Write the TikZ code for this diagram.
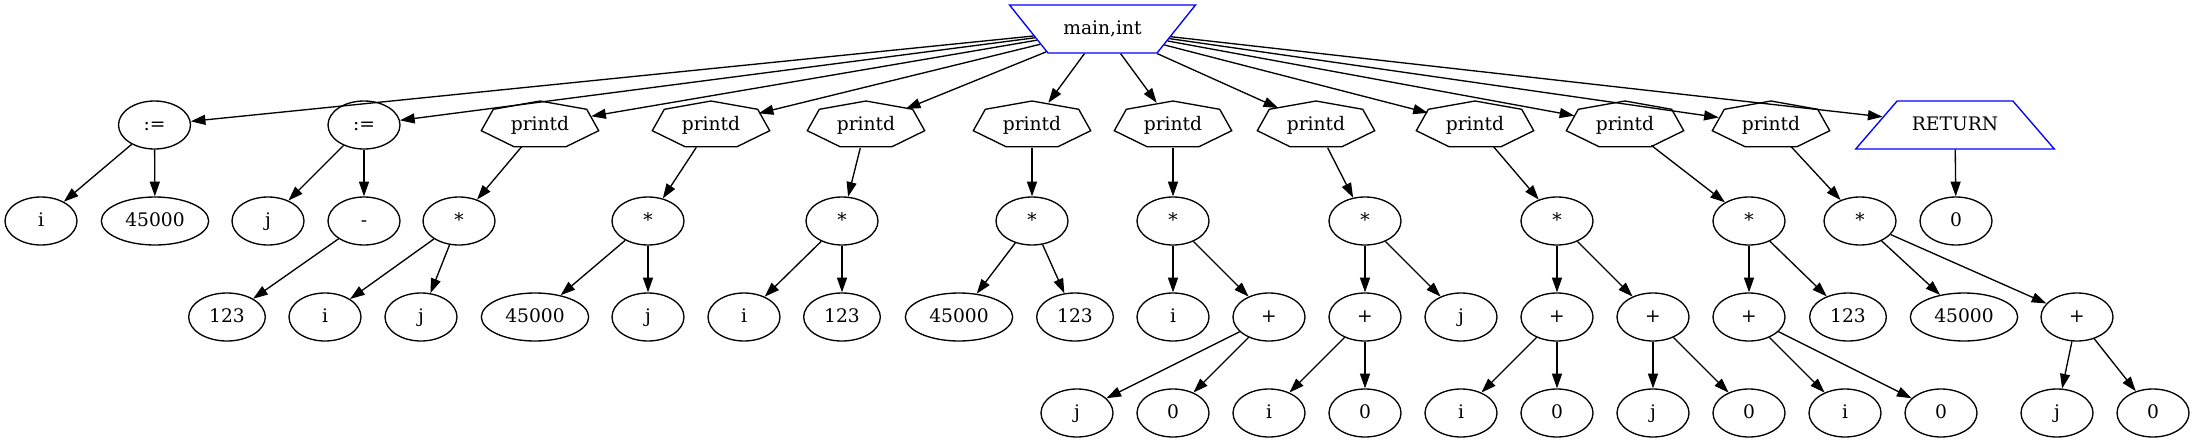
\documentclass[tikz,border=0pt]{standalone}
\usepackage{fontspec}
\setmainfont{DejaVu Serif}
\usetikzlibrary{shapes.geometric,arrows.meta}
\begin{document}
\begin{tikzpicture}[x=0.75pt,y=-0.75pt,
  every node/.style={font=\fontsize{14}{16.8}\selectfont, text height=12pt, text depth=3.4pt, inner sep=0pt},
  el/.style={draw, line width=1pt, ellipse, minimum width=54pt, minimum height=36pt},
  elm/.style={el, minimum width=57.5pt},
  elw/.style={el, minimum width=80.5pt},
  hept/.style={ellipse, minimum width=82.5pt, minimum height=34.5pt},
  heptline/.style={draw, line width=1pt, line join=miter},
  trap/.style={trapezium, draw=blue, line width=1pt, align=center, inner ysep=10.3pt},
  edge/.style={-{Triangle[length=11pt,width=7.5pt]}, line width=1pt}
]
\useasboundingbox (0,0) rectangle (2195,443);

% row 0
\node[trap, trapezium left angle=51.3, trapezium right angle=51.3, shape border rotate=180,
      text width=60pt, inner xsep=10.9pt] (main) at (1102.5,29) {main,int};

% row 1
\node[el] (a1) at (154.5,125) {:=};
\node[el] (a2) at (364,125) {:=};
\node[hept] (p1) at (540,125) {printd};
\node[hept] (p2) at (711,125) {printd};
\node[hept] (p3) at (866,125) {printd};
\node[hept] (p4) at (1032,125) {printd};
\node[hept] (p5) at (1173,125) {printd};
\node[hept] (p6) at (1316,125) {printd};
\node[hept] (p7) at (1475,125) {printd};
\node[hept] (p8) at (1625,125) {printd};
\node[hept] (p9) at (1771,125) {printd};
\node[trap, trapezium left angle=49.2, trapezium right angle=49.2,
      text width=66pt, inner xsep=10.4pt] (ret) at (1955,125) {RETURN};

% row 2
\node[el]  (a1i) at (41,221) {i};
\node[elw] (a1v) at (155,221) {45000};
\node[el]  (a2j) at (268,221) {j};
\node[el]  (a2m) at (364,221) {-};
\node[el]  (m1) at (459,221) {*};
\node[el]  (m2) at (648,221) {*};
\node[el]  (m3) at (842,221) {*};
\node[el]  (m4) at (1032,221) {*};
\node[el]  (m5) at (1173,221) {*};
\node[el]  (m6) at (1365,221) {*};
\node[el]  (m7) at (1557,221) {*};
\node[el]  (m8) at (1749,221) {*};
\node[el]  (m9) at (1860,221) {*};
\node[el]  (r0) at (1956,221) {0};

% row 3
\node[elm] (a2c) at (227,317) {123};
\node[el]  (m1i) at (325,317) {i};
\node[el]  (m1j) at (421,317) {j};
\node[elw] (m2a) at (535,317) {45000};
\node[el]  (m2j) at (648,317) {j};
\node[el]  (m3i) at (744,317) {i};
\node[elm] (m3c) at (842,317) {123};
\node[elw] (m4a) at (959,317) {45000};
\node[elm] (m4c) at (1075,317) {123};
\node[el]  (m5i) at (1173,317) {i};
\node[el]  (m5p) at (1269,317) {+};
\node[el]  (m6p) at (1365,317) {+};
\node[el]  (m6j) at (1461,317) {j};
\node[el]  (m7p) at (1557,317) {+};
\node[el]  (m7q) at (1653,317) {+};
\node[el]  (m8p) at (1749,317) {+};
\node[elm] (m8c) at (1848,317) {123};
\node[elw] (m9a) at (1964,317) {45000};
\node[el]  (m9p) at (2077,317) {+};

% row 4
\node[el] (m5pj) at (1077,413) {j};
\node[el] (m5p0) at (1173,413) {0};
\node[el] (m6pi) at (1269,413) {i};
\node[el] (m6p0) at (1365,413) {0};
\node[el] (m7pi) at (1461,413) {i};
\node[el] (m7p0) at (1557,413) {0};
\node[el] (m7qj) at (1653,413) {j};
\node[el] (m7q0) at (1749,413) {0};
\node[el] (m8pi) at (1845,413) {i};
\node[el] (m8p0) at (1941,413) {0};
\node[el] (m9pj) at (2057,413) {j};
\node[el] (m9p0) at (2153,413) {0};

% heptagon outlines of the printd nodes
\foreach \n in {p1,p2,p3,p4,p5,p6,p7,p8,p9}
  \draw[heptline] (\n.center) ++(0,-24) -- ++(46.7,8.3) -- ++(12,21.4) -- ++(-32.7,16)
    -- ++(-52,0) -- ++(-32.7,-16) -- ++(12,-21.4) -- cycle;

% connectors
\foreach \t in {a1,a2,p1,p2,p3,p4,p5,p6,p7,p8,p9,ret}
  \draw[edge] (main) -- (\t);
\draw[edge] (a1) -- (a1i);
\draw[edge] (a1) -- (a1v);
\draw[edge] (a2) -- (a2j);
\draw[edge] (a2) -- (a2m);
\draw[edge] (a2m) -- (a2c);
\draw[edge] (p1) -- (m1);
\draw[edge] (m1) -- (m1i);
\draw[edge] (m1) -- (m1j);
\draw[edge] (p2) -- (m2);
\draw[edge] (m2) -- (m2a);
\draw[edge] (m2) -- (m2j);
\draw[edge] (p3) -- (m3);
\draw[edge] (m3) -- (m3i);
\draw[edge] (m3) -- (m3c);
\draw[edge] (p4) -- (m4);
\draw[edge] (m4) -- (m4a);
\draw[edge] (m4) -- (m4c);
\draw[edge] (p5) -- (m5);
\draw[edge] (m5) -- (m5i);
\draw[edge] (m5) -- (m5p);
\draw[edge] (m5p) -- (m5pj);
\draw[edge] (m5p) -- (m5p0);
\draw[edge] (p6) -- (m6);
\draw[edge] (m6) -- (m6p);
\draw[edge] (m6) -- (m6j);
\draw[edge] (m6p) -- (m6pi);
\draw[edge] (m6p) -- (m6p0);
\draw[edge] (p7) -- (m7);
\draw[edge] (m7) -- (m7p);
\draw[edge] (m7) -- (m7q);
\draw[edge] (m7p) -- (m7pi);
\draw[edge] (m7p) -- (m7p0);
\draw[edge] (m7q) -- (m7qj);
\draw[edge] (m7q) -- (m7q0);
\draw[edge] (p8) -- (m8);
\draw[edge] (m8) -- (m8p);
\draw[edge] (m8) -- (m8c);
\draw[edge] (m8p) -- (m8pi);
\draw[edge] (m8p) -- (m8p0);
\draw[edge] (p9) -- (m9);
\draw[edge] (m9) -- (m9a);
\draw[edge] (m9) -- (m9p);
\draw[edge] (m9p) -- (m9pj);
\draw[edge] (m9p) -- (m9p0);
\draw[edge] (ret) -- (r0);
\end{tikzpicture}
\end{document}
